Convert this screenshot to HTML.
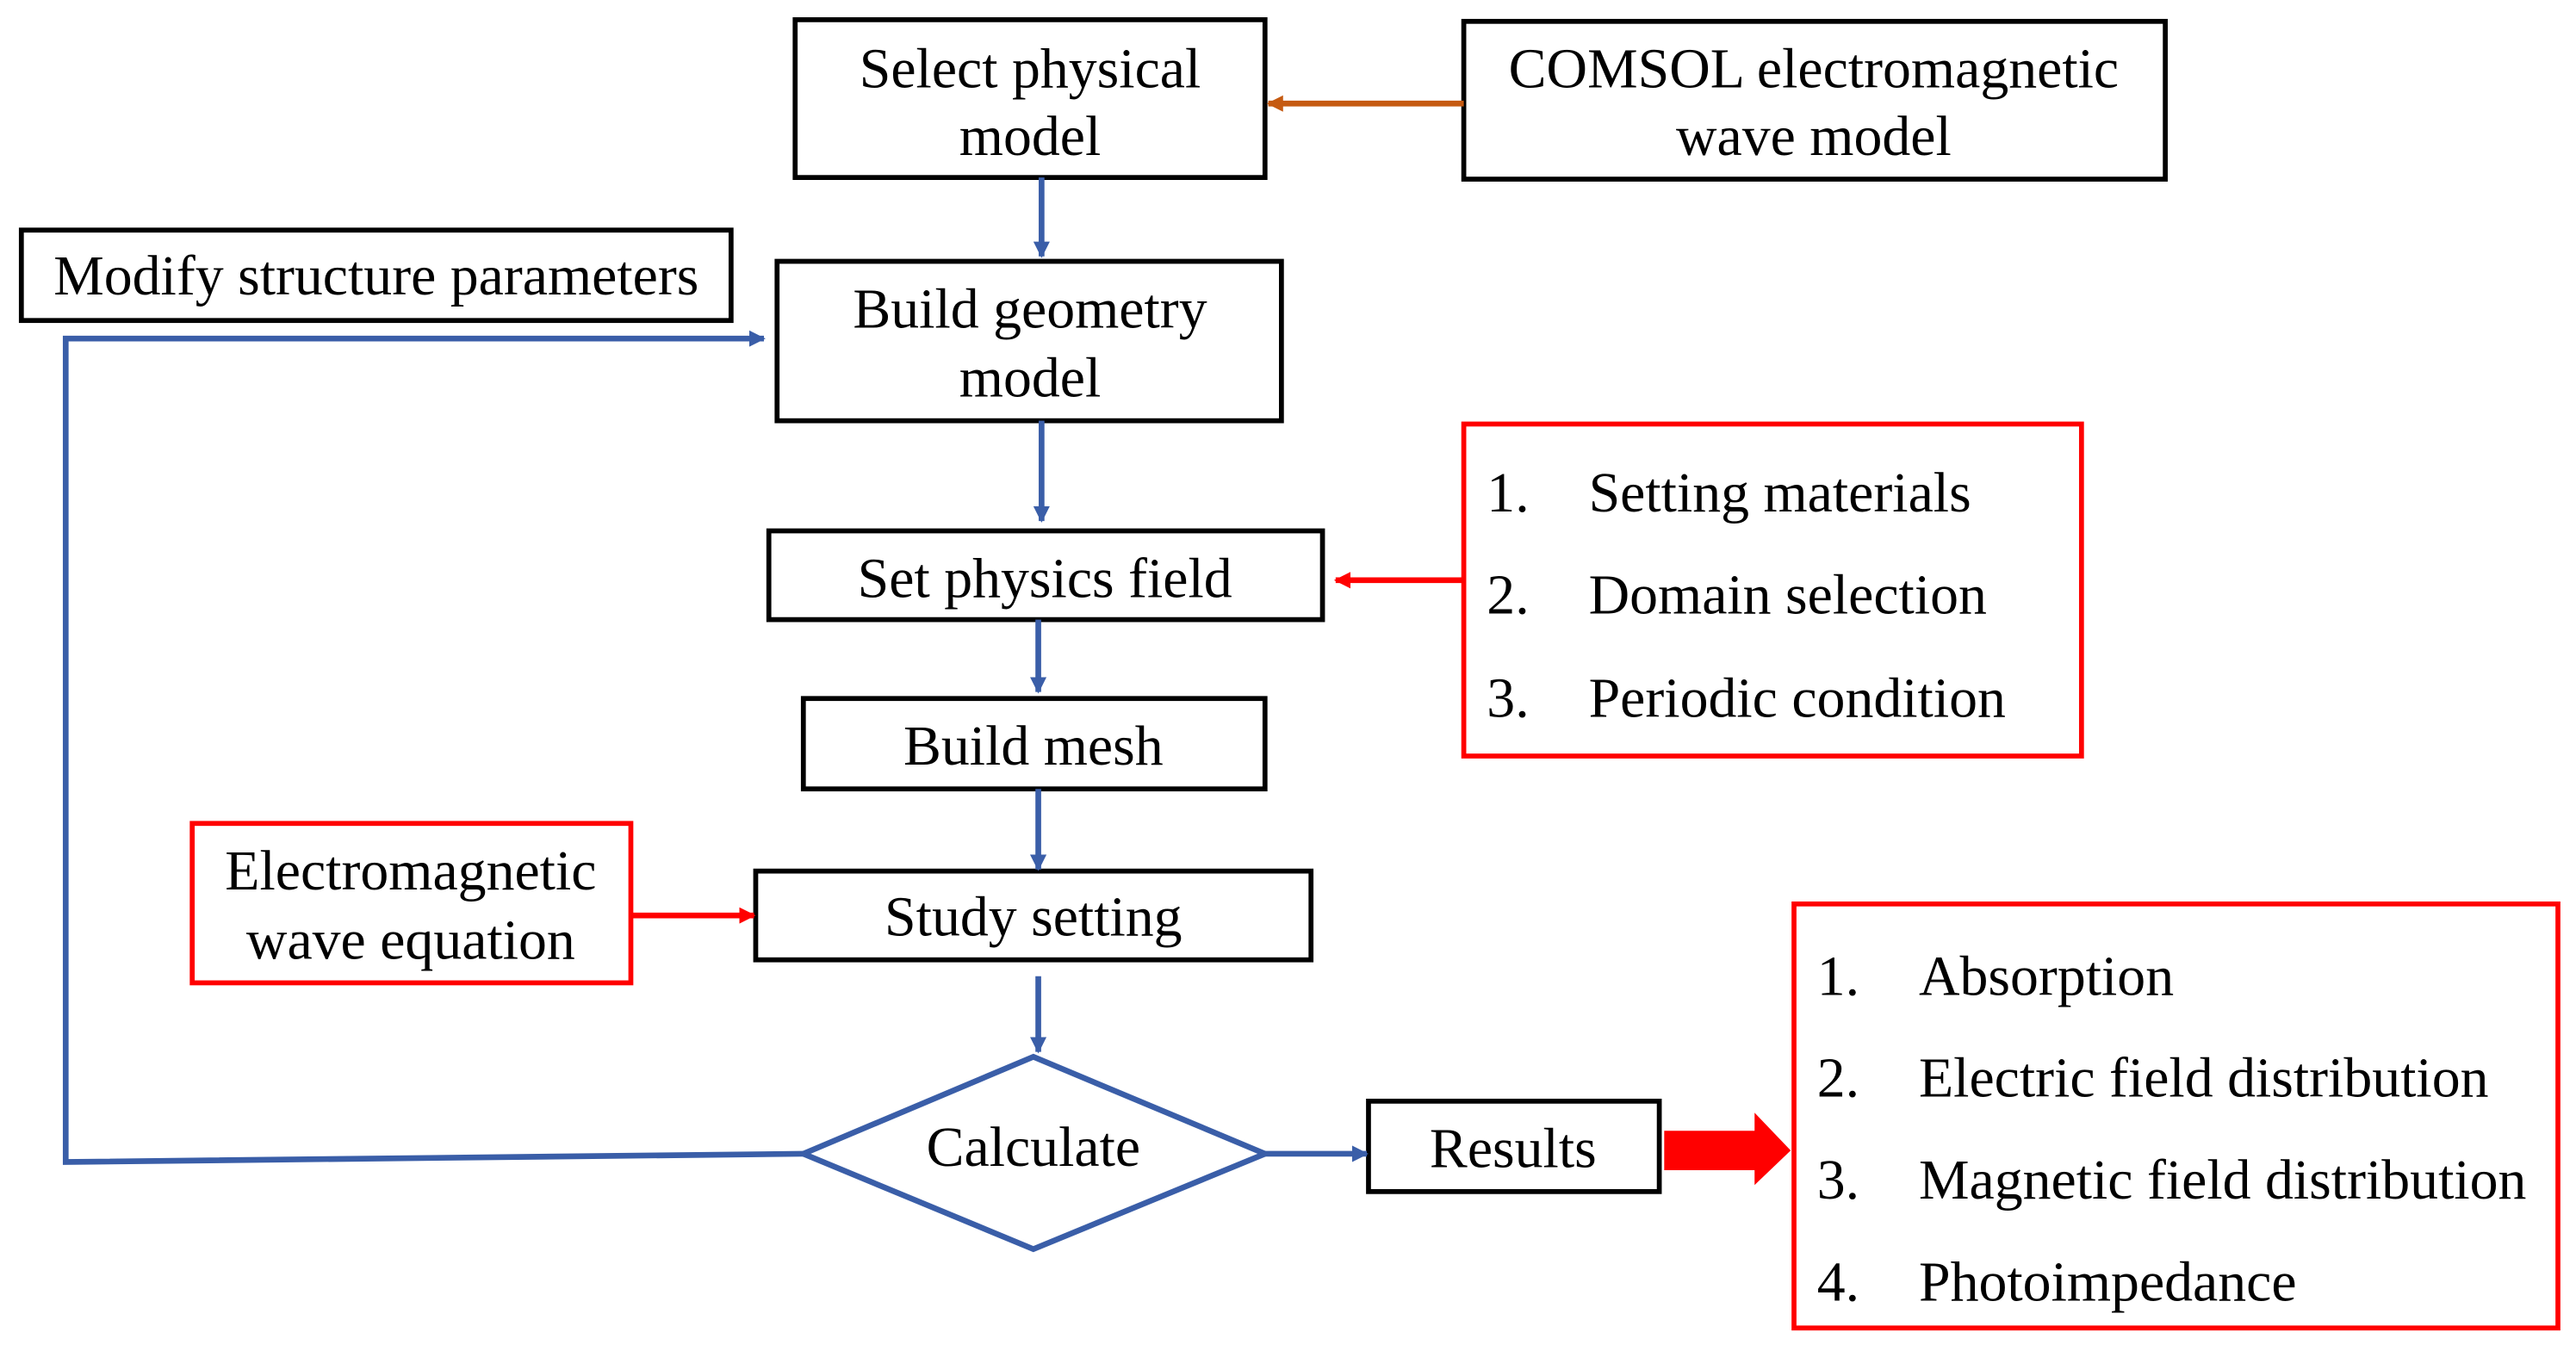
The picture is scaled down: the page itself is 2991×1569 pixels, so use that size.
<!DOCTYPE html>
<html><head><meta charset="utf-8"><style>html,body{margin:0;padding:0;background:#fff}svg{display:block}</style></head>
<body>
<svg width="2991" height="1569" viewBox="0 0 1568 822" preserveAspectRatio="none" xmlns="http://www.w3.org/2000/svg" font-family="'Liberation Serif', serif" font-size="34.5">
<defs>
<marker id="ab" markerWidth="10" markerHeight="10" refX="9" refY="5" orient="auto" markerUnits="userSpaceOnUse"><path d="M0,0 L10,5 L0,10 Z" fill="#3a5ea8"/></marker>
<marker id="ar" markerWidth="10" markerHeight="10" refX="9" refY="5" orient="auto" markerUnits="userSpaceOnUse"><path d="M0,0 L10,5 L0,10 Z" fill="#ff0000"/></marker>
<marker id="ao" markerWidth="10" markerHeight="10" refX="9" refY="5" orient="auto" markerUnits="userSpaceOnUse"><path d="M0,0 L10,5 L0,10 Z" fill="#c55a11"/></marker>
</defs>
<g fill="none" stroke="#000" stroke-width="3">
<rect x="484" y="12" width="286" height="96"/>
<rect x="891" y="13" width="427" height="96"/>
<rect x="13" y="140" width="432" height="55"/>
<rect x="473" y="159" width="307" height="97"/>
<rect x="468" y="323" width="337" height="54"/>
<rect x="489" y="425" width="281" height="55"/>
<rect x="460" y="530" width="338" height="54"/>
<rect x="833" y="670" width="177" height="55"/>
</g>
<g fill="none" stroke="#ff0000" stroke-width="3">
<rect x="891" y="258" width="376" height="202"/>
<rect x="117" y="501" width="267" height="97"/>
<rect x="1092" y="550" width="465" height="258"/>
</g>
<polygon points="629,643 770,702 629,760 489,702" fill="none" stroke="#3a5ea8" stroke-width="3.5"/>
<g stroke="#3a5ea8" stroke-width="3.5" fill="none">
<line x1="634" y1="108" x2="634" y2="156" marker-end="url(#ab)"/>
<line x1="634" y1="256" x2="634" y2="317" marker-end="url(#ab)"/>
<line x1="632" y1="377" x2="632" y2="421" marker-end="url(#ab)"/>
<line x1="632" y1="480" x2="632" y2="529" marker-end="url(#ab)"/>
<line x1="632" y1="594" x2="632" y2="640" marker-end="url(#ab)"/>
<line x1="770" y1="702" x2="832" y2="702" marker-end="url(#ab)"/>
<polyline points="489,702 40,707 40,206 465,206" marker-end="url(#ab)"/>
</g>
<line x1="891" y1="63" x2="772" y2="63" stroke="#c55a11" stroke-width="3.5" marker-end="url(#ao)"/>
<line x1="891" y1="353" x2="813" y2="353" stroke="#ff0000" stroke-width="3.5" marker-end="url(#ar)"/>
<line x1="384" y1="557" x2="459" y2="557" stroke="#ff0000" stroke-width="3.5" marker-end="url(#ar)"/>
<polygon points="1013,688 1068,688 1068,677 1090,700 1068,721 1068,712 1013,712" fill="#ff0000"/>
<g fill="#000" text-anchor="middle" dominant-baseline="central">
<text x="627" y="42">Select physical</text><text x="627" y="83">model</text>
<text x="1104" y="42">COMSOL electromagnetic</text><text x="1104" y="83">wave model</text>
<text x="229" y="168">Modify structure parameters</text>
<text x="627" y="188">Build geometry</text><text x="627" y="230">model</text>
<text x="636" y="352">Set physics field</text>
<text x="629" y="454">Build mesh</text>
<text x="629" y="558">Study setting</text>
<text x="250" y="530">Electromagnetic</text><text x="250" y="572">wave equation</text>
<text x="629" y="698">Calculate</text>
<text x="921" y="699">Results</text>
</g>
<g fill="#000" dominant-baseline="central">
<text x="905" y="300">1.</text><text x="967" y="300">Setting materials</text>
<text x="905" y="362">2.</text><text x="967" y="362">Domain selection</text>
<text x="905" y="425">3.</text><text x="967" y="425">Periodic condition</text>
<text x="1106" y="594">1.</text><text x="1168" y="594">Absorption</text>
<text x="1106" y="656">2.</text><text x="1168" y="656">Electric field distribution</text>
<text x="1106" y="718">3.</text><text x="1168" y="718">Magnetic field distribution</text>
<text x="1106" y="780">4.</text><text x="1168" y="780">Photoimpedance</text>
</g>
</svg>
</body></html>
